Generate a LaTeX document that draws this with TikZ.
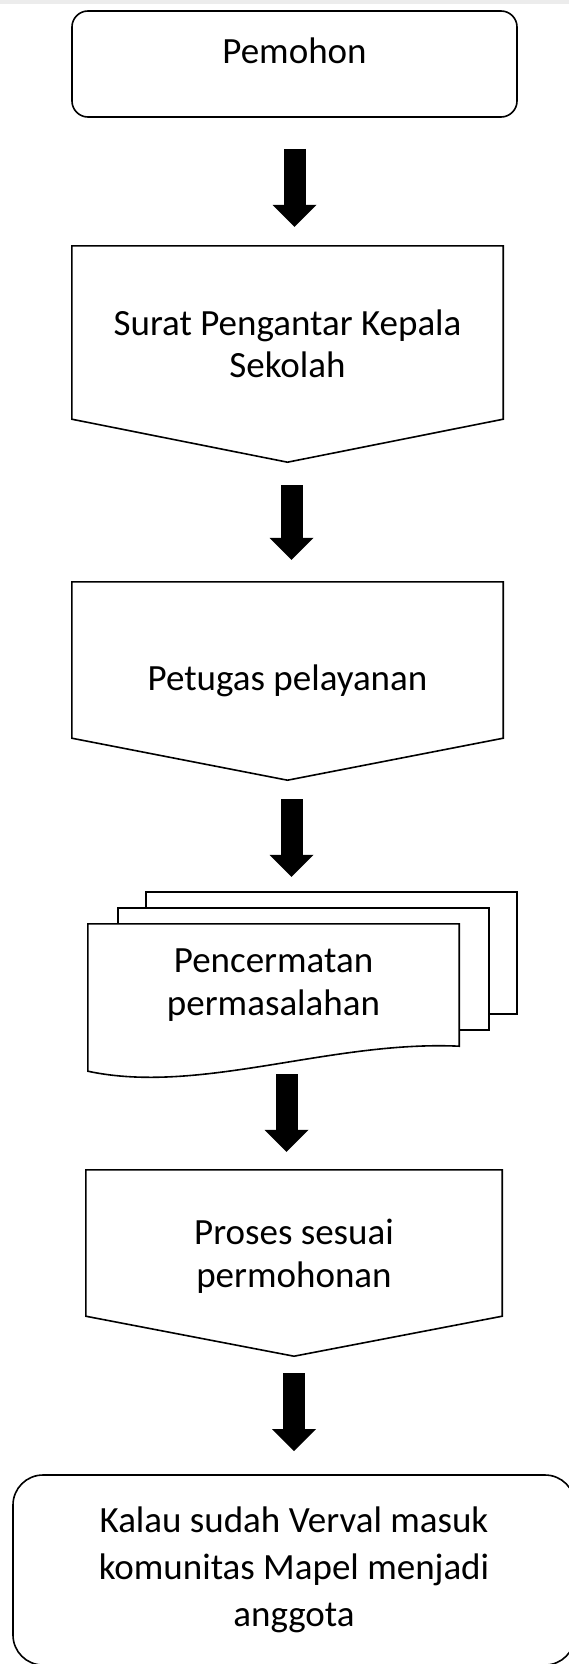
\documentclass[tikz,border=0pt]{standalone}
\usepackage{fontspec}
\setmainfont{Carlito}
\usepackage{tikz}
\usetikzlibrary{positioning,arrows.meta,calc}
\tikzset{
    every node/.style = {
        font=\fontsize{37}{42.5}\selectfont,
        align=center
    },
    startbox/.style = {
        draw,
        shape=rectangle,
        rounded corners=16pt,
        line width=1.6pt
    },
    pagebox/.style = {
        shape=rectangle,
        inner sep=0pt
    },
    outline/.style = {
        draw,
        line width=1.6pt,
        line join=miter
    },
    flow/.style = {
        draw,
        ->,
        line width=22pt
    },
    >={Triangle[width=44pt,length=22pt,line width=0pt]},
}
\begin{document}
\begin{tikzpicture}[x=1pt,y=-1pt]
                \useasboundingbox (0,0) rectangle (569,1664);
                \fill[gray!15] (0,0) rectangle (569,4);

                \node[startbox, minimum width=445pt, minimum height=106pt, text height=12pt, text depth=12pt] (pemohon) at (294.5,64) {Pemohon};
                \node[pagebox, minimum width=431pt, minimum height=196pt] (surat) at (287.5,344) {Surat Pengantar Kepala\\Sekolah};
                \node[pagebox, minimum width=431pt, minimum height=198pt] (petugas) at (287.5,681) {Petugas pelayanan};
                \node[pagebox, minimum width=371pt, minimum height=122pt] (cermat) at (273.5,985) {Pencermatan\\permasalahan};
                \node[pagebox, minimum width=416pt, minimum height=172pt] (proses) at (294,1256) {Proses sesuai\\permohonan};
                \node[startbox, rounded corners=30pt, minimum width=562pt, minimum height=190pt, font=\fontsize{37}{47}\selectfont] (verval) at (294,1570) {Kalau sudah Verval masuk\\komunitas Mapel menjadi\\anggota};

                % off-page shapes
                \path[outline] (surat.north west) -- (surat.north east) -- ([yshift=23pt]surat.south east) -- ([yshift=-20pt]surat.south) -- ([yshift=23pt]surat.south west) -- cycle;
                \path[outline] (petugas.north west) -- (petugas.north east) -- ([yshift=42pt]petugas.south east) -- (petugas.south) -- ([yshift=42pt]petugas.south west) -- cycle;
                \path[outline] (proses.north west) -- (proses.north east) -- ([yshift=26pt]proses.south east) -- ([yshift=-14pt]proses.south) -- ([yshift=26pt]proses.south west) -- cycle;

                % multi document
                \path[outline] ([xshift=58pt,yshift=16pt]cermat.north west) |- ([xshift=58pt,yshift=32pt]cermat.north east) |- ([xshift=30pt,yshift=32pt]cermat.south east);
                \path[outline] ([xshift=30pt]cermat.north west) |- ([xshift=30pt,yshift=16pt]cermat.north east) |- ([yshift=16pt]cermat.south east);
                \path[outline] (cermat.south east) -- (cermat.north east) -- (cermat.north west) -- ([yshift=-25pt]cermat.south west) .. controls ([shift={(112pt,-49pt)}]cermat.south west) and ([shift={(-129pt,6pt)}]cermat.south east) .. (cermat.south east) -- cycle;

                \path[flow, shorten <=31pt, shorten >=19pt] (pemohon.south) -- (pemohon.south |- surat.north);
                \path[flow, shorten <=43pt, shorten >=22pt] ([xshift=4pt]surat.south) -- ([xshift=4pt]surat.south |- petugas.north);
                \path[flow, shorten <=19pt, shorten >=47pt] ([xshift=4pt]petugas.south) -- ([xshift=4pt]petugas.south |- cermat.north);
                \path[flow, shorten <=28pt, shorten >=18pt] ([xshift=13pt]cermat.south) -- ([xshift=13pt]cermat.south |- proses.north);
                \path[flow, shorten <=31pt, shorten >=23pt] (proses.south) -- (proses.south |- verval.north);
            \end{tikzpicture}
\end{document}
